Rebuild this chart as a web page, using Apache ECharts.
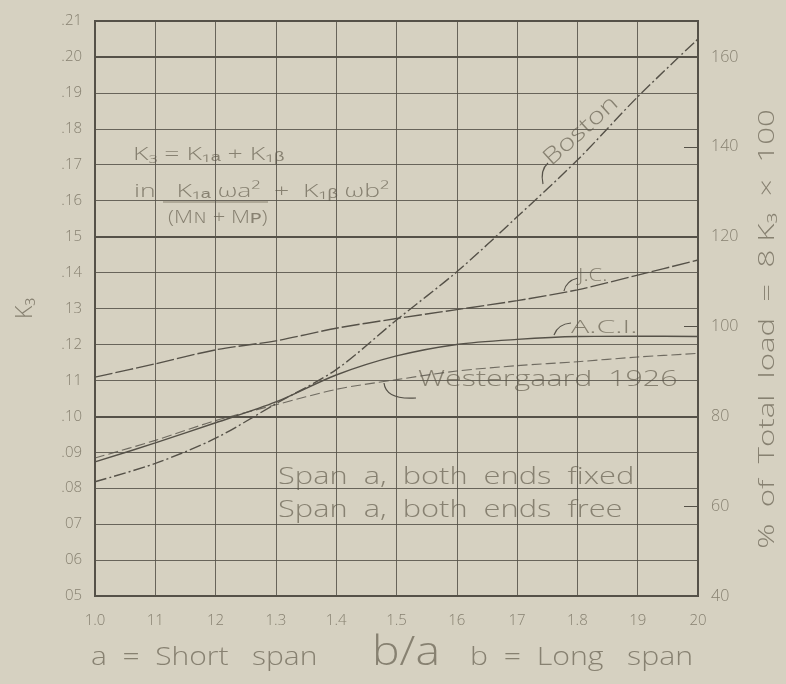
<!DOCTYPE html>
<html>
<head>
<meta charset="utf-8">
<script src="https://cdn.jsdelivr.net/npm/echarts@6/dist/echarts.min.js"></script>
<style>
html,body{margin:0;padding:0;background:#d6d1c1;}
#c{width:786px;height:684px;}
</style>
</head>
<body>
<div id="c"></div>
<script>
// ---- data ----
const ratios = [1.0, 1.1, 1.2, 1.3, 1.4, 1.5, 1.6, 1.7, 1.8, 1.9, 2.0];
const boston = [0.0818, 0.0869, 0.0939, 0.1035, 0.1130, 0.1268, 0.1402, 0.1555, 0.1713, 0.1889, 0.2050];
const jc = [0.1109, 0.1146, 0.1185, 0.1210, 0.1245, 0.1272, 0.1297, 0.1322, 0.1352, 0.1393, 0.1435];
const aci = [0.0873, 0.0926, 0.0982, 0.1040, 0.1115, 0.1168, 0.1200, 0.1214, 0.1222, 0.1223, 0.1222];
const westergaard = [0.0884, 0.0933, 0.0988, 0.1032, 0.1075, 0.1102, 0.1126, 0.1141, 0.1152, 0.1165, 0.1175];
const xTickLabels = ['1.0', '11', '12', '1.3', '1.4', '1.5', '16', '17', '1.8', '19', '20'];
const yTickLabels = ['05', '06', '07', '.08', '.09', '.10', '11', '.12', '13', '.14', '15', '.16', '.17', '.18', '.19', '.20', '.21'];
const pctTickLabels = ['40', '60', '80', '100', '120', '140', '160'];

const INK = '#555148';
const TXT = '#878171';
const FONT = "'Open Sans', 'DejaVu Sans', sans-serif";
const W = 300;

function pair(xs, ys) { return xs.map((x, i) => [x, ys[i]]); }

const chart = echarts.init(document.getElementById('c'), null, {renderer: 'canvas'});

// annotation text, horizontally stretched like hand lettering
const txt = (x, y, text, size, sx, extra) => Object.assign({
  type: 'text', x: x, y: y, scaleX: sx || 1,
  style: {text: text, fill: TXT, font: W + ' ' + size + 'px ' + FONT, verticalAlign: 'middle'}
}, extra || {});
const hook = (x1, y1, cx, cy, x2, y2) => ({
  type: 'bezierCurve', shape: {x1: x1, y1: y1, cpx1: cx, cpy1: cy, x2: x2, y2: y2},
  style: {stroke: INK, lineWidth: 1.2, fill: null}
});

const option = {
  backgroundColor: '#d6d1c1',
  animation: false,
  grid: {left: 95, right: 88, top: 21, bottom: 88, containLabel: false, outerBoundsMode: 'none',
         show: true, borderColor: INK, borderWidth: 2, backgroundColor: 'transparent'},
  xAxis: {
    type: 'value', min: 1.0, max: 2.0, interval: 0.1,
    axisLine: {show: true, lineStyle: {color: INK, width: 2}},
    axisTick: {show: false},
    splitLine: {show: true, lineStyle: {color: INK, width: 1, opacity: 0.85}},
    axisLabel: {
      color: TXT, fontSize: 15, fontFamily: FONT, fontWeight: W, margin: 17,
      formatter: v => xTickLabels[Math.round((v - 1.0) / 0.1)] || ''
    }
  },
  yAxis: [
    {
      type: 'value', min: 0.05, max: 0.21, interval: 0.01,
      name: 'K₃', nameLocation: 'middle', nameGap: 58, nameRotate: 90,
      nameTextStyle: {color: TXT, fontSize: 23, fontFamily: FONT, fontWeight: W},
      axisLine: {show: true, lineStyle: {color: INK, width: 2}},
      axisTick: {show: false},
      splitLine: {show: true, lineStyle: {color: INK, width: 1, opacity: 0.85}},
      axisLabel: {
        color: TXT, fontSize: 15, fontFamily: FONT, fontWeight: W, margin: 13,
        padding: [0, 0, 14, 0],
        formatter: v => yTickLabels[Math.round((v - 0.05) / 0.01)] || ''
      }
    },
    {
      type: 'value', position: 'right', min: 40, max: 168, interval: 20,
      axisLine: {show: true, lineStyle: {color: INK, width: 2}},
      axisTick: {show: true, inside: true, length: 14, lineStyle: {color: INK, width: 1}},
      splitLine: {show: false},
      axisLabel: {
        color: TXT, fontSize: 16, fontFamily: FONT, fontWeight: W, margin: 13,
        padding: [0, 0, 16, 0],
        formatter: v => (Math.abs(v % 20) < 1e-6 ? pctTickLabels[Math.round((v - 40) / 20)] : '')
      }
    },
    {
      type: 'value', position: 'left', min: 0.05, max: 0.21, interval: 0.05,
      axisLine: {show: false}, axisTick: {show: false}, axisLabel: {show: false},
      splitLine: {show: true, lineStyle: {color: INK, width: 2}}
    }
  ],
  series: [
    {
      name: 'Boston', type: 'line', data: pair(ratios, boston), smooth: 0.3, symbol: 'none',
      lineStyle: {color: INK, width: 1.4, type: [12, 3, 2, 3]}, z: 5
    },
    {
      name: 'J.C.', type: 'line', data: pair(ratios, jc), smooth: 0.3, symbol: 'none',
      lineStyle: {color: INK, width: 1.4, type: [18, 3]}, z: 5
    },
    {
      name: 'A.C.I.', type: 'line', data: pair(ratios, aci), smooth: 0.3, symbol: 'none',
      lineStyle: {color: INK, width: 1.4}, z: 5
    },
    {
      name: 'Westergaard 1926', type: 'line', data: pair(ratios, westergaard), smooth: 0.3, symbol: 'none',
      lineStyle: {color: INK, width: 1.1, type: [10, 4], opacity: 0.8}, z: 5
    }
  ],
  graphic: [
    // right axis title
    {type: 'text', x: 768, y: 329, rotation: Math.PI / 2, scaleX: 1.42,
     style: {text: '%  of  Total  load  =  8 K₃  ×  100', fill: TXT, font: W + ' 22px ' + FONT, align: 'center', verticalAlign: 'middle'}},
    // formula
    txt(133, 155, 'K₃ = K₁ₐ + K₁ᵦ', 19, 1.4),
    txt(134, 192, 'in   K₁ₐ ωa²  +  K₁ᵦ ωb²', 19, 1.4),
    {type: 'line', shape: {x1: 163, y1: 202, x2: 268, y2: 202}, style: {stroke: TXT, lineWidth: 1.2}},
    txt(168, 218, '(Mɴ + Mᴘ)', 19, 1.16),
    // curve labels
    {type: 'text', x: 581, y: 131, rotation: 42 * Math.PI / 180, scaleX: 1.25,
     style: {text: 'Boston', fill: TXT, font: W + ' 23px ' + FONT, align: 'center', verticalAlign: 'middle'}},
    txt(578, 276, 'J.C.', 19, 1.15),
    txt(571, 328, 'A.C.I.', 19, 1.6),
    txt(418, 380, 'Westergaard  1926', 22, 1.38),
    // hooks
    hook(548, 163, 540, 170, 543, 184),
    hook(578, 278, 566, 281, 564, 291),
    hook(571, 323, 558, 324, 554, 335),
    hook(384, 383, 386, 400, 416, 398),
    // span texts
    txt(278, 477, 'Span  a,  both  ends  fixed', 23, 1.34),
    txt(278, 510, 'Span  a,  both  ends  free', 23, 1.34),
    // bottom title
    txt(91, 658, 'a  =  Short   span', 25, 1.2),
    txt(372, 654, 'b/a', 40, 1.16),
    txt(470, 658, 'b  =  Long   span', 25, 1.21)
  ]
};
chart.setOption(option);
</script>
</body>
</html>
